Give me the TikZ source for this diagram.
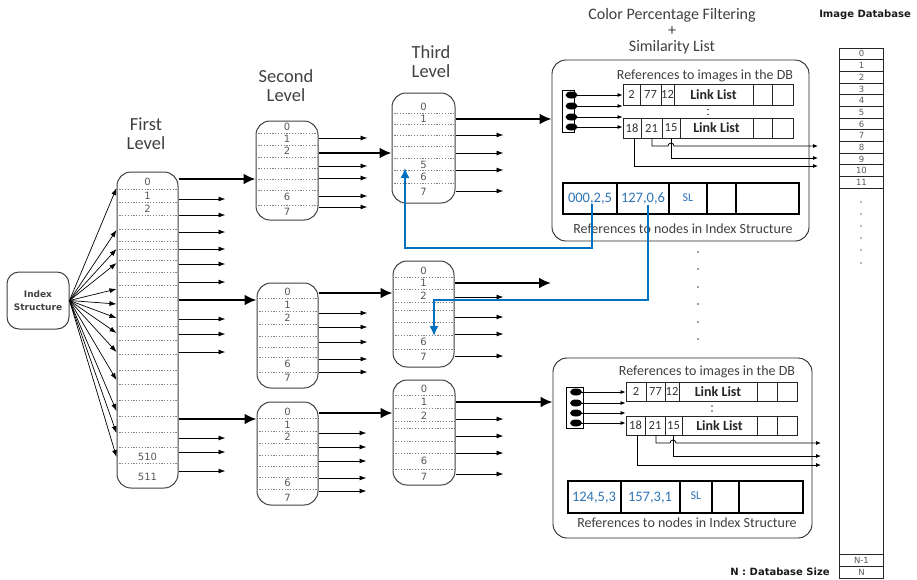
\documentclass[tikz,border=0pt]{standalone}
\usepackage{fontspec}
\setmainfont{Carlito}
\newfontfamily\dejavu{DejaVu Sans}
\usetikzlibrary{arrows.meta,shapes.geometric}
\definecolor{lnblue}{RGB}{0,112,192}
\definecolor{txblue}{RGB}{46,117,182}
\definecolor{dgray}{RGB}{64,64,64}

% name, cx, cy, w, h, dotted-line ys, label/y list
\newcommand\level[7]{%
  \node[lvl, minimum width=#4pt, minimum height=#5pt] (#1) at (#2,#3) {};
  \begin{scope}
    \clip[rounded corners=14pt] (#1.south west) rectangle (#1.north east);
    \foreach \yy in {#6} \draw[dotln] (#1.west |- 0,\yy) -- (#1.east |- 0,\yy);
  \end{scope}
  \foreach \lab/\yy [count=\k] in {#7} \node[lbl] (#1-l\k) at (#1.center |- 0,\yy) {\lab};
}
% name, y list, length, style
\newcommand\outarrows[4]{%
  \foreach \yy in {#2} \draw[#4] (#1.east |- 0,\yy) -- ++(#3,0);
}

\begin{document}
\begin{tikzpicture}[x=1pt,y=-1pt,
  lvl/.style={draw=dgray, line width=1pt, rounded corners=14pt, fill=white, inner sep=0pt},
  dotln/.style={black!50, line width=0.6pt, dash pattern=on 1.2pt off 1.6pt},
  lbl/.style={font=\dejavu\fontsize{10}{10}\selectfont, text=black!65, inner sep=0pt},
  tarr/.style={line width=0.9pt, -{Latex[length=7pt,width=5pt]}},
  barr/.style={line width=2.4pt, -{Latex[length=12pt,width=11pt]}},
  fan/.style={line width=0.7pt, -{Latex[length=7pt,width=5pt]}},
  sarr/.style={line width=0.8pt, -{Latex[length=5pt,width=4pt]}},
  bline/.style={draw=lnblue, line width=1.6pt, -{Latex[length=10pt,width=9pt]}},
  hdr/.style={font=\fontsize{18.5}{19}\selectfont, text=dgray, align=center, inner sep=0pt},
  cpf/.style={font=\fontsize{16}{16}\selectfont, text=dgray, align=center, inner sep=0pt},
  reft/.style={font=\fontsize{14}{14}\selectfont, text=dgray, inner sep=0pt},
  boldt/.style={font=\dejavu\bfseries\fontsize{10}{12}\selectfont, text=black!90, align=center, inner sep=0pt},
  panel/.style={draw=black!85, line width=0.9pt, rounded corners=14pt, inner sep=0pt},
  rowb/.style={draw=black!85, line width=0.9pt, inner sep=0pt},
  divl/.style={black!85, line width=0.9pt},
  cellt/.style={font=\fontsize{12.5}{12.5}\selectfont, text=black!80, inner sep=0pt},
  linkt/.style={font=\bfseries\fontsize{14}{14}\selectfont, text=black!85, inner sep=0pt},
  tblb/.style={draw=black, line width=1.8pt, inner sep=0pt},
  tdiv/.style={black, line width=1.1pt},
  bluet/.style={font=\fontsize{14.5}{14.5}\selectfont, text=txblue, inner sep=0pt},
  ell/.style={ellipse, fill=black, minimum width=12pt, minimum height=7pt, inner sep=0pt},
  ptrb/.style={draw=black, line width=0.8pt, inner sep=0pt},
  dbc/.style={draw=black!85, line width=0.9pt, inner sep=0pt},
  dbt/.style={font=\dejavu\fontsize{8.5}{8.5}\selectfont, text=black!65, inner sep=0pt},
  dotn/.style={circle, fill=black!75, minimum size=1.8pt, inner sep=0pt},
]
\useasboundingbox (0,0) rectangle (917,579);

% ---------- Index structure ----------
\node[draw=dgray, line width=1pt, rounded corners=12pt, minimum width=62pt, minimum height=57pt,
      inner sep=0pt, font=\dejavu\bfseries\fontsize{9}{12.5}\selectfont, align=center, text=dgray]
      (IS) at (38,300.5) {Index\\Structure};

% ---------- level boxes ----------
\level{L1}{147.5}{330}{61}{316}
  {189,202,215,229,241,249,260,272,285,297,310,326,340,354,370,384,400,416,432,447,463}
  {0/182,1/196,2/209,510/457,511/477}
\level{L2a}{287}{170.5}{62}{99}{133,145,157,168,179,190,205}
  {0/127,1/139,2/151,6/197,7/212}
\level{L3a}{423.5}{148}{63}{110}{113,124,135,146,158,170,183}
  {0/107,1/119,5/165,6/177,7/192}
\level{L2b}{287.5}{335.5}{61}{105}{298,311,324,336,347,357,372}
  {0/292,1/305,2/318,6/364,7/378}
\level{L3b}{423.5}{314}{61}{106}{277,289,302,310,322,335,349}
  {0/271,1/283,2/296,6/342,7/357}
\level{L2c}{287.5}{453.5}{61}{103}{418,431,443,455,466,477,489}
  {0/412,1/425,2/437,6/483,7/498}
\level{L3c}{424}{432.5}{62}{105}{395,408,421,428,441,453,469}
  {0/389,1/402,2/416,6/461,7/477}

\node[hdr] (T1) at (146,133.5) {First\\Level};
\node[hdr] (T2) at (286,85.5) {Second\\Level};
\node[hdr] (T3) at (431,62) {Third\\Level};

% ---------- fan from index structure ----------
\foreach \yy in {188,230,249,263,289,304,318,333,352,380,411,433,457}
  \draw[fan] (IS.east) -- (L1.west |- 0,\yy);

% ---------- panels ----------
\node[panel, minimum width=257pt, minimum height=181pt] (TB) at (680.5,150.5) {};
\node[panel, minimum width=259pt, minimum height=180pt] (BB) at (682.5,448) {};

% ---------- arrows between levels ----------
\outarrows{L1}{199,215,232,249,264,282,319,334,352,438,452,471}{47}{tarr}
\draw[barr] (L1.east |- 0,179) -- (L2a.west |- 0,179);
\draw[barr] (L1.east |- 0,300) -- (L2b.west |- 0,300);
\draw[barr] (L1.east |- 0,419) -- (L2c.west |- 0,419);

\outarrows{L2a}{138,166,178,196,207}{49}{tarr}
\draw[barr] (L2a.east |- 0,153) -- (L3a.west |- 0,153);
\outarrows{L3a}{135,153,170,191}{48}{tarr}
\draw[barr] (L3a.east |- 0,119) -- (TB.west |- 0,119);

\outarrows{L2b}{313,327,342,359,372}{49}{tarr}
\draw[barr] (L2b.east |- 0,293) -- (L3b.west |- 0,293);
\outarrows{L3b}{297,317,334,356}{49}{tarr}
\coordinate (Mend) at (551,283);
\draw[barr] (L3b.east |- 0,283) -- (Mend);

\outarrows{L2c}{433,447,461,478,491}{48}{tarr}
\draw[barr] (L2c.east |- 0,413) -- (L3c.west |- 0,413);
\outarrows{L3c}{419,436,453,474}{48}{tarr}
\draw[barr] (L3c.east |- 0,402) -- (BB.west |- 0,402);

% ---------- top panel ----------
\node[cpf] (CPF) at (672,31) {Color Percentage Filtering\\+\\Similarity List};
\node[reft] (TBref) at (705,76) {References to images in the DB};
\node[ptrb, minimum width=12pt, minimum height=42pt] (TBp) at (568,111) {};
\foreach \yy [count=\k] in {95,106,117,127} \node[ell] (TBe\k) at (571.5,\yy) {};
\node[rowb, minimum width=170pt, minimum height=21pt] (TBr1) at (708,94.5) {};
\node[rowb, minimum width=170pt, minimum height=20pt] (TBr2) at (708,128) {};
\foreach \xx in {640,661,674,753,772} \draw[divl] (TBr1.north -| \xx,0) -- (TBr1.south -| \xx,0);
\foreach \xx in {641,662,680,753,772} \draw[divl] (TBr2.north -| \xx,0) -- (TBr2.south -| \xx,0);
\node[cellt] (TBc1) at (631.5,94.5) {2};
\node[cellt] (TBc2) at (650.5,94.5) {77};
\node[cellt] (TBc3) at (667.5,94.5) {12};
\node[linkt] (TBc4) at (713.5,94.5) {Link List};
\node[cellt] (TBd1) at (632,128) {18};
\node[cellt] (TBd2) at (651.5,128) {21};
\node[cellt] (TBd3) at (671,128) {15};
\node[linkt] (TBd4) at (716.5,128) {Link List};
\node[dotn] (TBv1) at (708,109.5) {};
\node[dotn] (TBv2) at (708,114.5) {};
\draw[sarr] (TBe1.center) -- (TBr1.west |- TBe1.center);
\draw[sarr] (TBe2.center) -- (TBr1.west |- TBe2.center);
\draw[sarr] (TBe3.center) -- (TBr2.west |- TBe3.center);
\draw[sarr] (TBe4.center) -- (TBr2.west |- TBe4.center);
\coordinate (TBa1) at (818,146);
\coordinate (TBa2) at (818,158);
\coordinate (TBa3) at (818,166);
\draw[sarr] (TBr2.south -| 652,0) -- (652,146) -- (668,146) arc[start angle=180, end angle=360, radius=3] -- (TBa1);
\draw[sarr] (TBr2.south -| 671,0) -- (671,158) -- (TBa2);
\draw[sarr] (TBr2.south -| 634,0) -- (634,166) -- (TBa3);
\node[tblb, minimum width=236pt, minimum height=31pt] (TBt) at (681,198.5) {};
\foreach \xx in {617,669,707,736} \draw[tdiv] (TBt.north -| \xx,0) -- (TBt.south -| \xx,0);
\node[bluet] (TBb1) at (590,198.5) {000,2,5};
\node[bluet] (TBb2) at (643,198.5) {127,0,6};
\node[bluet, font=\fontsize{12}{12}\selectfont] (TBb3) at (688,197.5) {SL};
\node[reft] (TBnref) at (683,229) {References to nodes in Index Structure};

% ---------- bottom panel ----------
\node[reft] (BBref) at (707,372) {References to images in the DB};
\node[ptrb, minimum width=17pt, minimum height=41pt] (BBp) at (574.5,407.5) {};
\foreach \yy [count=\k] in {392,403,413,423} \node[ell] (BBe\k) at (576,\yy) {};
\node[rowb, minimum width=171pt, minimum height=19pt] (BBr1) at (711.5,391.5) {};
\node[rowb, minimum width=171pt, minimum height=19pt] (BBr2) at (711.5,425.5) {};
\foreach \xx in {646,665,679,757,777} \draw[divl] (BBr1.north -| \xx,0) -- (BBr1.south -| \xx,0);
\foreach \xx in {645,665,682,757,777} \draw[divl] (BBr2.north -| \xx,0) -- (BBr2.south -| \xx,0);
\node[cellt] (BBc1) at (636,391.5) {2};
\node[cellt] (BBc2) at (655.5,391.5) {77};
\node[cellt] (BBc3) at (672,391.5) {12};
\node[linkt] (BBc4) at (718,391.5) {Link List};
\node[cellt] (BBd1) at (635.5,425.5) {18};
\node[cellt] (BBd2) at (655,425.5) {21};
\node[cellt] (BBd3) at (673.5,425.5) {15};
\node[linkt] (BBd4) at (719.5,425.5) {Link List};
\node[dotn] (BBv1) at (712,406) {};
\node[dotn] (BBv2) at (712,411) {};
\draw[sarr] (BBe1.center) -- (BBr1.west |- BBe1.center);
\draw[sarr] (BBe2.center) -- (BBr1.west |- BBe2.center);
\draw[sarr] (BBe3.center) -- (BBr2.west |- BBe3.center);
\draw[sarr] (BBe4.center) -- (BBr2.west |- BBe4.center);
\coordinate (BBa1) at (821,443);
\coordinate (BBa2) at (821,456);
\coordinate (BBa3) at (821,465);
\draw[sarr] (BBr2.south -| 656,0) -- (656,443) -- (670,443) arc[start angle=180, end angle=360, radius=3] -- (BBa1);
\draw[sarr] (BBr2.south -| 673,0) -- (673,456) -- (BBa2);
\draw[sarr] (BBr2.south -| 637,0) -- (637,465) -- (BBa3);
\node[tblb, minimum width=235pt, minimum height=32pt] (BBt) at (685.5,497) {};
\foreach \xx in {621,680,712,739} \draw[tdiv] (BBt.north -| \xx,0) -- (BBt.south -| \xx,0);
\node[bluet] (BBb1) at (594,498) {124,5,3};
\node[bluet] (BBb2) at (650,498) {157,3,1};
\node[bluet, font=\fontsize{12}{12}\selectfont] (BBb3) at (696,496) {SL};
\node[reft] (BBnref) at (687,523) {References to nodes in Index Structure};

% ---------- blue references ----------
\coordinate (L3aIn) at (405,168);
\coordinate (L3bIn) at (434,336);
\draw[bline] (TBb1.south -| 592,0) -- (592,248) -- (L3aIn |- 0,248) -- (L3aIn);
\draw[bline] (TBb2.south -| 648,0) -- (648,300) -- (L3bIn |- 0,300) -- (L3bIn);

% ---------- middle vertical dots ----------
\foreach \yy [count=\k] in {252,269,287,304,322,339} \node[dotn] (md\k) at (698,\yy) {};

% ---------- image database ----------
\node[boldt] (IDB) at (865,15) {Image Database};
\node[dbc, minimum width=44pt, minimum height=530pt, anchor=north west] (DB) at (839,48) {};
\foreach \i [evaluate=\i as \yy using 48+11.67*\i] in {1,...,12}
  \draw[dbc] (DB.west |- 0,\yy) -- (DB.east |- 0,\yy);
\foreach \i [evaluate=\i as \yy using 53.9+11.67*\i, count=\k] in {0,...,11}
  \node[dbt] (db\k) at (DB.center |- 0,\yy) {\i};
\foreach \yy [count=\k] in {202,214,226,238,250,263} \node[dotn, fill=black!55] (dbd\k) at (861,\yy) {};
\draw[dbc] (DB.west |- 0,554) -- (DB.east |- 0,554);
\draw[dbc] (DB.west |- 0,566) -- (DB.east |- 0,566);
\node[dbt] (dbn1) at (DB.center |- 0,560) {N-1};
\node[dbt] (dbn) at (DB.center |- 0,572) {N};
\node[boldt] (NDS) at (780,572) {N : Database Size};
\end{tikzpicture}
\end{document}
